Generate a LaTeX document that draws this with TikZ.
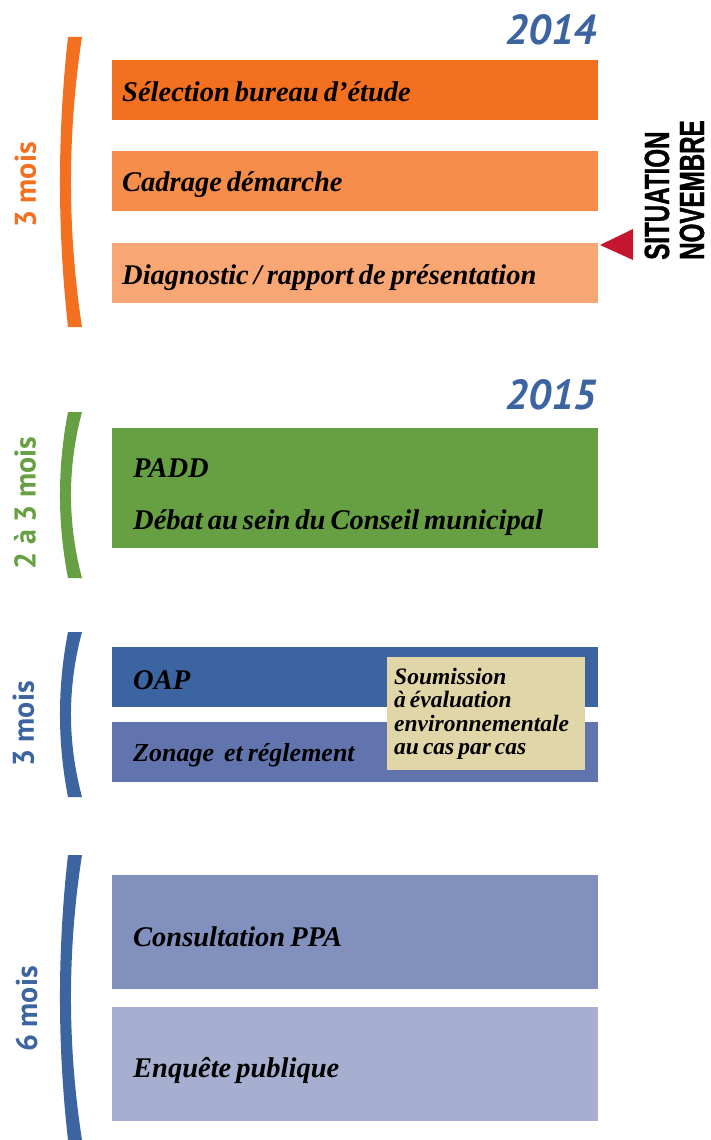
\documentclass[tikz,border=0pt]{standalone}
\usepackage{fontspec}
\setmainfont{Liberation Serif}
\newfontfamily\moisfont{PT Sans}
\newfontfamily\condfont[FakeStretch=0.69, BoldFeatures={FakeBold=1}]{Liberation Sans}
\usetikzlibrary{positioning}

\definecolor{orangeA}{HTML}{F37021}
\definecolor{orangeB}{HTML}{F68D4B}
\definecolor{orangeC}{HTML}{F8A774}
\definecolor{vert}{HTML}{66A043}
\definecolor{bleuA}{HTML}{3C64A0}
\definecolor{bleuB}{HTML}{6174AD}
\definecolor{bleuC}{HTML}{8290BD}
\definecolor{bleuD}{HTML}{A6AFD0}
\definecolor{sable}{HTML}{E0D6A8}
\definecolor{rouge}{HTML}{C4172F}

\newcommand{\etapefont}[1]{\bfseries\itshape\fontsize{#1}{34}\selectfont}
\newcommand{\moisarc}[3]{\fill[#1] (68,#2) .. controls (57.3,{#2+(#3-#2)/3}) and (57.3,{#2+2*(#3-#2)/3}) .. (68,#3) -- (82,#3) .. controls (67.3,{#2+2*(#3-#2)/3}) and (67.3,{#2+(#3-#2)/3}) .. (82,#2) -- cycle;}

\begin{document}
\begin{tikzpicture}[x=1pt, y=-1pt,
	etape/.style = {minimum width=486pt, minimum height=60pt, text width=466pt, inner xsep=10pt, inner ysep=0pt, text height=22pt, text depth=0pt, align=left, font=\etapefont{28.5}, execute at begin node={\spaceskip 5pt\relax}},
	etapeB/.style = {etape, text width=444pt, inner xsep=21pt},
	moislabel/.style = {rotate=90, inner sep=0pt, font=\moisfont\bfseries\fontsize{30}{30}\selectfont},
	annee/.style = {anchor=base east, inner sep=0pt, text=bleuA, font=\moisfont\bfseries\itshape\fontsize{42}{42}\selectfont},
	situ/.style = {rotate=90, anchor=base west, inner sep=0pt, font=\condfont\bfseries\fontsize{35}{35}\selectfont}]
	\useasboundingbox (0,0) rectangle (711,1140);
	\node[annee] (a2014) at (597,45) {2014};
	\node[etape, fill=orangeA, anchor=north west] (sel) at (112,60) {Sélection bureau d’étude};
	\node[etape, fill=orangeB] (cad) [below=30pt of sel] {Cadrage démarche};
	\node[etape, fill=orangeC] (diag) [below=32pt of cad] {Diagnostic / rapport de présentation};
	\moisarc{orangeA}{37}{327}
	\node[moislabel, text=orangeA] (m1) at (25.5,185) {3 mois};
	\fill[rouge] (600,245) -- (633,229) -- (633,260) -- cycle;
	\node[situ] (sit) at (669,260) {SITUATION};
	\node[situ] (nov) at (704,260) {NOVEMBRE};
	\node[annee] (a2015) at (597,409) {2015};
	\node[etapeB, fill=vert, minimum height=120pt, text height=30pt, text depth=52pt, anchor=north west] (padd) at (112,428) {PADD\\[18pt]Débat au sein du Conseil municipal};
	\moisarc{vert}{412}{578}
	\node[moislabel, text=vert] (m2) at (25,503) {2 à 3 mois};
	\node[etapeB, fill=bleuA, text height=24pt, anchor=north west] (oap) at (112,647) {OAP};
	\node[etapeB, fill=bleuB, text height=19pt, font=\etapefont{26}] (zon) [below=14pt of oap] {Zonage\ \ et réglement};
	\node[fill=sable, anchor=north west, minimum width=198pt, minimum height=113pt, text width=184pt, inner xsep=7pt, align=left, font=\etapefont{23.5}, execute at begin node={\spaceskip 4pt\relax\baselineskip 23.5pt\relax}] (soum) at (387,657) {Soumission\\à évaluation\\environnementale\\au cas par cas};
	\moisarc{bleuA}{632}{797}
	\node[moislabel, text=bleuA] (m3) at (23.5,724) {3 mois};
	\node[etapeB, fill=bleuC, minimum height=114pt, text height=28pt, anchor=north west] (ppa) at (112,875) {Consultation PPA};
	\node[etapeB, fill=bleuD, minimum height=114pt, text height=28pt] (enq) [below=17pt of ppa] {Enquête publique};
	\moisarc{bleuA}{855}{1140}
	\node[moislabel, text=bleuA] (m4) at (26.5,1009) {6 mois};
\end{tikzpicture}
\end{document}
